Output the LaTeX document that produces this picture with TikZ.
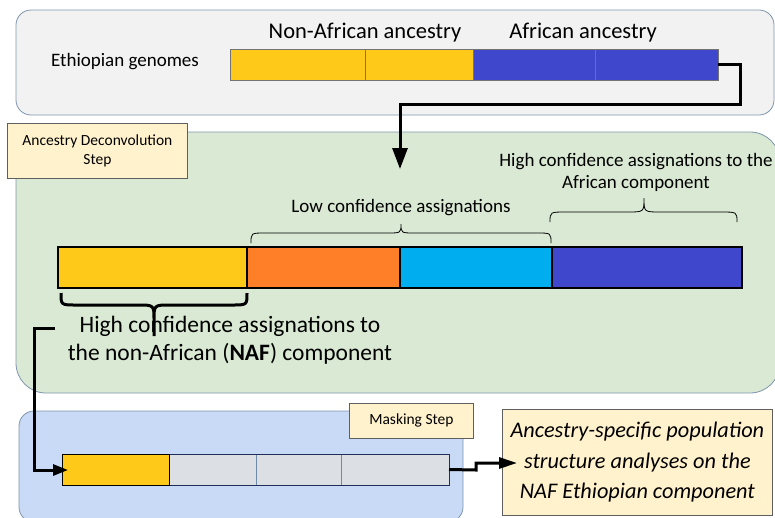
\documentclass[tikz,border=0pt]{standalone}
\usepackage{fontspec}
\setmainfont{Carlito}
\usetikzlibrary{arrows.meta,calc}
\definecolor{gold}{HTML}{FFC91A}
\definecolor{orng}{HTML}{FE7F27}
\definecolor{cyn}{HTML}{00AEEF}
\definecolor{navy}{HTML}{3F48CC}
\definecolor{panelgray}{HTML}{F2F2F2}
\definecolor{panelgreen}{HTML}{D9E9D3}
\definecolor{panelblue}{HTML}{C9DAF6}
\definecolor{panelline}{HTML}{7F95AD}
\definecolor{labelfill}{HTML}{FFF2CC}
\definecolor{labelline}{HTML}{5F5F5F}
\definecolor{maskfill}{HTML}{DCE0E4}
\definecolor{maskline}{HTML}{6E8BA8}
\definecolor{maskouter}{HTML}{1F2F5A}
\tikzset{
  panel/.style={draw=panelline, line width=0.8pt},
  labelbox/.style={draw=labelline, fill=labelfill, line width=0.8pt, inner sep=0pt, align=center},
  seg/.style={inner sep=0pt, outer sep=0pt, anchor=north west},
  topseg/.style={seg, draw=black!55, line width=0.5pt, minimum height=31},
  midseg/.style={seg, draw=black, line width=1.5pt, minimum height=41},
  maskseg/.style={seg, draw=maskline, line width=0.8pt, fill=maskfill, minimum height=31},
  conn/.style={line width=3pt, line join=miter},
  brace/.style={line width=0.8pt},
  bigbrace/.style={line width=3pt}
}
\newcommand{\fs}[2]{\fontsize{#1}{#2}\selectfont}
\begin{document}
\begin{tikzpicture}[x=1pt,y=-1pt]
\useasboundingbox (0,0) rectangle (775,517);
\clip (0,0) rectangle (775,517);

% panels
\draw[panel, fill=panelgray, rounded corners=15pt] (16,10) rectangle (774,115);
\draw[panel, fill=panelgreen, rounded corners=30pt] (16,132) rectangle (780,393);
\draw[panel, fill=panelblue, rounded corners=15pt] (19,411) rectangle (463,522);

% top bar
\node[topseg, fill=gold, minimum width=135] (t1) at (230,49) {};
\node[topseg, fill=gold, minimum width=108] (t2) at (365,49) {};
\node[topseg, fill=navy, minimum width=122] (t3) at (473,49) {};
\node[topseg, fill=navy, minimum width=123] (t4) at (595,49) {};

\node[font=\fs{22.5}{27}] (lnaf) at (365,33) {Non-African ancestry};
\node[font=\fs{22.5}{27}] (laf) at (583,33) {African ancestry};
\node[font=\fs{19}{23}] (leth) at (125,62) {Ethiopian genomes};

% connector top -> middle
\coordinate (ca) at (400,104);
\coordinate (cb) at (400,169);
\draw[conn, -{Triangle[length=21pt,width=15pt]}] (t4.east) -- ++(22,0) |- (ca) -- (cb);

% deconvolution label
\node[labelbox, font=\fs{15.5}{18.5}, minimum width=180, minimum height=55, anchor=north west] (ldec) at (7,123) {Ancestry Deconvolution\\Step};

% middle bar
\node[midseg, fill=gold, minimum width=189] (m1) at (58,247) {};
\node[midseg, fill=orng, minimum width=153] (m2) at (247,247) {};
\node[midseg, fill=cyn, minimum width=152] (m3) at (400,247) {};
\node[midseg, fill=navy, minimum width=190] (m4) at (552,247) {};

% braces
\draw[brace] (251,243) .. controls (251,233) and (251,233) .. (265,233) -- (387,233)
  .. controls (401,233) and (401,233) .. (401,224) .. controls (401,233) and (401,233) .. (415,233)
  -- (537,233) .. controls (551,233) and (551,233) .. (551,243);
\node[font=\fs{19}{23}] (llow) at (401,208) {Low confidence assignations};

\draw[brace] (550,222) .. controls (550,212) and (550,212) .. (566,212) -- (628,212)
  .. controls (644,212) and (644,212) .. (644,198) .. controls (644,212) and (644,212) .. (660,212)
  -- (721,212) .. controls (737,212) and (737,212) .. (737,222);
\node[font=\fs{19}{22}, align=center] (lhaf) at (636,172) {High confidence assignations to the\\African component};

\draw[bigbrace] (61,293) .. controls (61,305) and (61,305) .. (76,305) -- (138,305)
  .. controls (154,305) and (154,305) .. (154,320) -- (154,336) -- (154,320)
  .. controls (154,305) and (154,305) .. (170,305) -- (232,305) .. controls (247,305) and (247,305) .. (247,293);
\node[font=\fs{23.5}{28}, align=center, inner sep=0pt] (lnafc) at (230,340) {High confidence assignations to\\the non-African (\textbf{NAF}) component};

% connector NAF -> masked bar
\coordinate (cc) at (55,328);
\coordinate (cd) at (68,470);

% masking label
\node[labelbox, font=\fs{15.5}{18.5}, minimum width=124, minimum height=35, anchor=north west] (lmask) at (349,403) {Masking Step};

% masked bar
\node[maskseg, minimum width=87] (k2) at (169,454) {};
\node[maskseg, minimum width=85] (k3) at (256,454) {};
\node[maskseg, minimum width=108] (k4) at (341,454) {};
\draw[maskouter, line width=1pt] (k2.north west) -- (k4.north east) -- (k4.south east) -- (k2.south west);
\node[seg, draw=black, line width=1pt, fill=gold, minimum width=107, minimum height=31] (k1) at (62,454) {};

\draw[conn, -{Triangle[length=15pt,width=11pt]}] (cc) -- (34,328) |- (cd);

% result box
\node[labelbox, font=\fs{22.3}{30.5}\itshape, minimum width=270, minimum height=106, anchor=north west] (lres) at (502,409) {Ancestry-specific population\\structure analyses on the\\NAF Ethiopian component};

\coordinate (ce) at (476,470);
\coordinate (cf) at (517,463);
\draw[conn, -{Triangle[length=18pt,width=11pt]}] (k4.east) -- (ce) |- (cf);

\end{tikzpicture}
\end{document}
